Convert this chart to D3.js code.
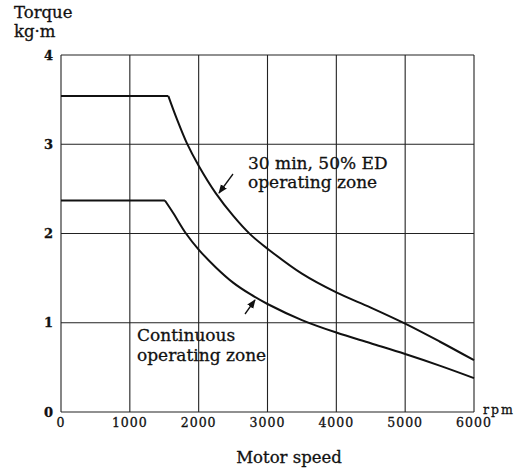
<!DOCTYPE html>
<html>
<head>
<meta charset="utf-8">
<script src="https://cdn.jsdelivr.net/npm/d3@7"></script>
<style>
  body { margin: 0; background: #fff; }
  svg text { font-family: "DejaVu Serif", serif; fill: #111; stroke: #111; stroke-width: 0.3px; }
</style>
</head>
<body>
<svg class="torque-chart" width="521" height="472"></svg>
<script>

// axis ticks
const speedTicks = [0, 1000, 2000, 3000, 4000, 5000, 6000];
const torqueTicks = [0, 1, 2, 3, 4];

// 30 min, 50% ED curve (rpm, kg·m)
const shortSpeed = [0, 1560, 1680, 1830, 2000, 2250, 2500, 2750, 3000, 3500, 4000, 4500, 5000, 5500, 6000];
const shortTorque = [3.54, 3.54, 3.29, 3.01, 2.76, 2.45, 2.20, 1.99, 1.83, 1.55, 1.34, 1.17, 0.99, 0.79, 0.58];

// continuous curve
const contSpeed = [0, 1510, 1630, 1816, 2000, 2250, 2500, 2750, 3000, 3500, 4000, 4500, 5000, 5500, 6000];
const contTorque = [2.37, 2.37, 2.23, 2.00, 1.82, 1.62, 1.45, 1.32, 1.21, 1.03, 0.89, 0.77, 0.65, 0.52, 0.38];

const svg = d3.select("svg.torque-chart");

const x = d3.scaleLinear().domain([0, 6000]).range([61, 474]);
const y = d3.scaleLinear().domain([0, 4]).range([412, 55]);

// grid
svg.append("g")
    .selectAll("line")
    .data(speedTicks)
    .enter()
    .append("line")
    .attr("x1", d => x(d)).attr("x2", d => x(d))
    .attr("y1", y(0)).attr("y2", y(4))
    .style("stroke", "#222")
    .style("stroke-width", 1.1);

svg.append("g")
    .selectAll("line")
    .data(torqueTicks)
    .enter()
    .append("line")
    .attr("x1", x(0)).attr("x2", x(6000))
    .attr("y1", d => y(d)).attr("y2", d => y(d))
    .style("stroke", "#222")
    .style("stroke-width", 1.1);

// tick labels
svg.append("g")
    .selectAll("text")
    .data(torqueTicks)
    .enter()
    .append("text")
    .attr("x", 53)
    .attr("y", d => y(d) + 4.5)
    .attr("text-anchor", "end")
    .style("font-size", "13px")
    .style("font-weight", "bold")
    .text(d => d);

svg.append("g")
    .selectAll("text")
    .data(speedTicks)
    .enter()
    .append("text")
    .attr("x", d => x(d))
    .attr("y", 427)
    .attr("text-anchor", "middle")
    .style("font-size", "12.5px")
    .style("letter-spacing", "1px")
    .text(d => d);

// curves: flat part straight, falling part smooth
function drawCurve(speeds, torques) {
    const pts = speeds.map((s, i) => [s, torques[i]]);
    const flat = d3.line().x(d => x(d[0])).y(d => y(d[1]));
    const fall = d3.line().x(d => x(d[0])).y(d => y(d[1])).curve(d3.curveCatmullRom.alpha(0.5));

    svg.append("path")
        .attr("d", flat(pts.slice(0, 2)))
        .style("fill", "none").style("stroke", "#111").style("stroke-width", 2);
    svg.append("path")
        .attr("d", fall(pts.slice(1)))
        .style("fill", "none").style("stroke", "#111").style("stroke-width", 2);
}

drawCurve(shortSpeed, shortTorque);
drawCurve(contSpeed, contTorque);

// arrows
svg.append("defs").append("marker")
    .attr("id", "head")
    .attr("viewBox", "0 0 10 10")
    .attr("refX", 9).attr("refY", 5)
    .attr("markerWidth", 7).attr("markerHeight", 7)
    .attr("orient", "auto")
    .append("path")
    .attr("d", "M0,1 L10,5 L0,9 Z")
    .style("fill", "#111");

const arrows = [
    {x1: 233, y1: 174, x2: 219, y2: 193},
    {x1: 245, y1: 314, x2: 255, y2: 300}
];

svg.selectAll("line.arrow")
    .data(arrows)
    .enter()
    .append("line")
    .attr("class", "arrow")
    .attr("x1", d => d.x1).attr("y1", d => d.y1)
    .attr("x2", d => d.x2).attr("y2", d => d.y2)
    .style("stroke", "#111")
    .style("stroke-width", 1.3)
    .attr("marker-end", "url(#head)");

// annotations
const notes = [
    {text: "30 min, 50% ED", x: 248, y: 169},
    {text: "operating zone", x: 248, y: 188},
    {text: "Continuous", x: 137, y: 341},
    {text: "operating zone", x: 137, y: 361}
];

svg.selectAll("text.note")
    .data(notes)
    .enter()
    .append("text")
    .attr("class", "note")
    .attr("x", d => d.x)
    .attr("y", d => d.y)
    .style("font-size", "17px")
    .text(d => d.text);

// axis titles
svg.append("text").attr("x", 14).attr("y", 18).style("font-size", "16.5px").text("Torque");
svg.append("text").attr("x", 14).attr("y", 37).style("font-size", "16.5px").text("kg·m");
svg.append("text").attr("x", 483).attr("y", 414).style("font-size", "12.5px").style("letter-spacing", "2px").text("rpm");
svg.append("text").attr("x", 289).attr("y", 463).attr("text-anchor", "middle").style("font-size", "16.5px").text("Motor speed");

</script>
</body>
</html>
